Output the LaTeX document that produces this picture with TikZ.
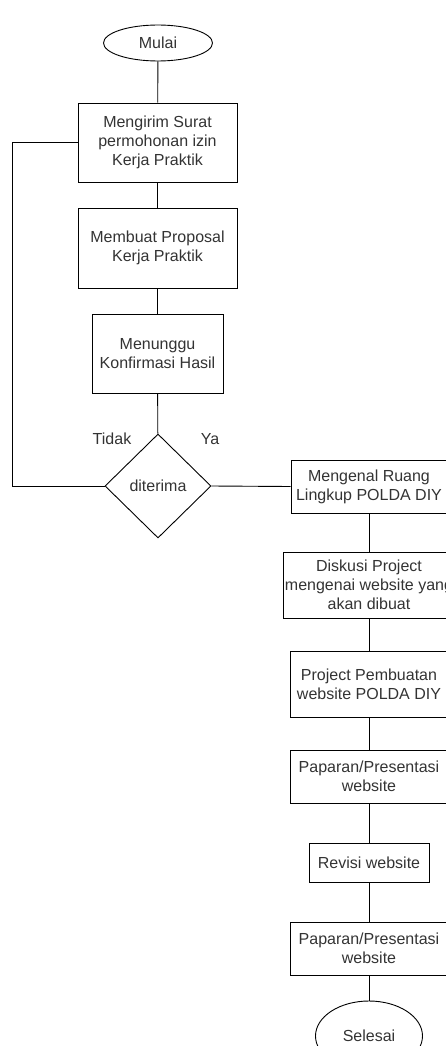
\documentclass[tikz,border=0pt]{standalone}
\usepackage{fontspec}
\setmainfont{Liberation Sans}
\usetikzlibrary{shapes.geometric}

\begin{document}
\begin{tikzpicture}[x=1pt, y=-1pt, line width=0.9pt,
  every node/.style={font=\fontsize{16}{19}\selectfont, text=black!80, align=center},
  proses/.style={draw=black, rectangle, inner sep=0pt},
  terminal/.style={draw=black, ellipse, inner sep=0pt},
  keputusan/.style={draw=black, diamond, inner sep=0pt, minimum width=106pt, minimum height=104pt}]
  \useasboundingbox (0,0) rectangle (446,1046);

  % Kolom kiri
  \node[terminal, minimum width=109pt, minimum height=36pt] (mulai) at (158,43) {Mulai};
  \node[proses, minimum width=159pt, minimum height=79pt] (surat) at (157.5,142.5)
    {Mengirim Surat\\permohonan izin\\Kerja Praktik};
  \node[proses, minimum width=159pt, minimum height=80pt] (proposal) at (157.5,248)
    {Membuat Proposal\\Kerja Praktik};
  \node[proses, minimum width=131pt, minimum height=79pt] (tunggu) at (157.5,353.5)
    {Menunggu\\Konfirmasi Hasil};
  \node[keputusan] (diterima) at (158,486) {diterima};
  \node (tidak) at (112,439) {Tidak};
  \node (ya) at (210,439) {Ya};

  % Kolom kanan
  \node[proses, minimum width=156pt, minimum height=53pt] (ruang) at (369,486.5)
    {Mengenal Ruang\\Lingkup POLDA DIY};
  \node[proses, minimum width=172pt, minimum height=66pt] (diskusi) at (369,585)
    {Diskusi Project\\mengenai website yang\\akan dibuat};
  \node[proses, minimum width=158pt, minimum height=66pt] (pembuatan) at (369,684)
    {Project Pembuatan\\website POLDA DIY};
  \node[proses, minimum width=158pt, minimum height=53pt] (paparan1) at (369,776.5)
    {Paparan/Presentasi\\website};
  \node[proses, minimum width=120pt, minimum height=39pt] (revisi) at (369,862.5)
    {Revisi website};
  \node[proses, minimum width=158pt, minimum height=53pt] (paparan2) at (369,948.5)
    {Paparan/Presentasi\\website};
  \node[terminal, minimum width=107pt, minimum height=70pt] (selesai) at (369,1036) {Selesai};

  % Garis
  \draw (mulai) -- (surat);
  \draw (surat) -- (proposal);
  \draw (proposal) -- (tunggu);
  \draw (tunggu) -- (diterima);
  \coordinate (balik) at (12,486);
  \draw (diterima.west) -- (balik) |- (surat.west);
  \draw (diterima.east) -- (ruang.west);
  \draw (ruang) -- (diskusi);
  \draw (diskusi) -- (pembuatan);
  \draw (pembuatan) -- (paparan1);
  \draw (paparan1) -- (revisi);
  \draw (revisi) -- (paparan2);
  \draw (paparan2) -- (selesai);
\end{tikzpicture}
\end{document}
